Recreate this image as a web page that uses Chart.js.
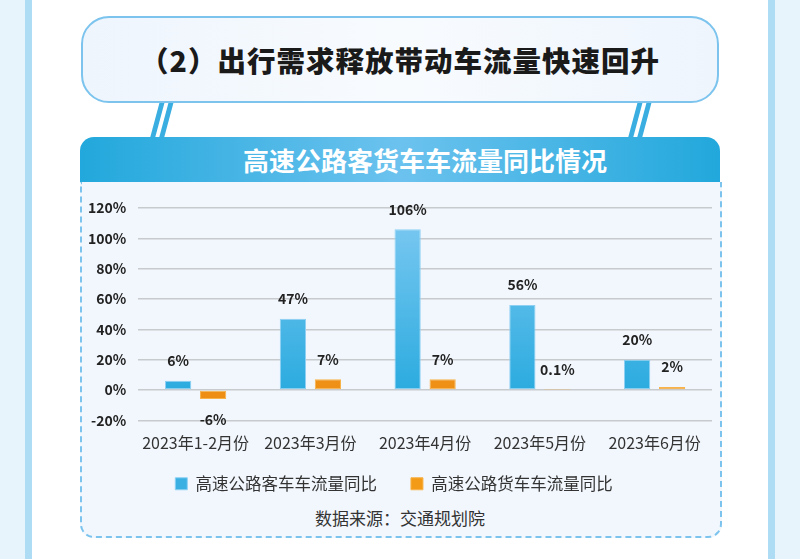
<!DOCTYPE html>
<html>
<head>
<meta charset="utf-8">
<script src="https://cdn.jsdelivr.net/npm/chart.js@4.4.0/dist/chart.umd.min.js"></script>
<style>
  html, body { margin: 0; padding: 0; }
  body { width: 800px; height: 559px; position: relative; overflow: hidden; background: #e8f4fc; font-family: "Noto Sans CJK SC", "Noto Sans", sans-serif; }
  .page { position: absolute; left: 25px; top: 0; width: 750px; height: 559px; background: #aedcf4; }
  .inner { position: absolute; left: 32px; top: 0; width: 736px; height: 559px; background: #fff; }
  .titlebox { position: absolute; left: 81px; top: 16px; width: 634px; height: 83px; border: 2px solid #7cc4ee; border-radius: 28px;
    background: linear-gradient(90deg, #eef5fd, #f8fbfe 50%, #eef5fd); text-align: center; line-height: 83px;
    font-size: 28.5px; font-weight: 900; color: #1a1a1a; letter-spacing: 1px; }
  .leg { position: absolute; top: 101px; width: 5px; height: 37px; background: #3aaee0; transform: skewX(-15deg); }
  .header { position: absolute; left: 80px; top: 137px; width: 640px; height: 45px; border-radius: 14px 14px 0 0;
    background: linear-gradient(90deg, #22a8dc, #6cc2ee 50%, #22a8dc); color: #fff; font-size: 26px; font-weight: bold;
    text-align: center; line-height: 45px; text-indent: 50px; }
  .panel { position: absolute; left: 80px; top: 182px; width: 638px; height: 354px; background: #f2f7fd;
    border: 2px dashed #7cc4ee; border-top: none; border-radius: 0 0 14px 14px; }
  .chartwrap { position: absolute; left: 72px; top: 182px; width: 648px; height: 320px; }
  .source { position: absolute; left: 80px; top: 505px; width: 640px; text-align: center; font-size: 17px; color: #333; }
</style>
</head>
<body>
<div class="page"></div>
<div class="inner"></div>
<div class="leg" style="left:155px"></div>
<div class="leg" style="left:164px"></div>
<div class="leg" style="left:633px"></div>
<div class="leg" style="left:642px"></div>
<div class="titlebox">（2）出行需求释放带动车流量快速回升</div>
<div class="header">高速公路客货车车流量同比情况</div>
<div class="panel"></div>
<div class="chartwrap"><canvas id="chart"></canvas></div>
<div class="source">数据来源：交通规划院</div>
<script>
const categories = ['2023年1-2月份', '2023年3月份', '2023年4月份', '2023年5月份', '2023年6月份'];
const passengerValues = [6, 47, 106, 56, 20];
const freightValues = [-6, 7, 7, 0.1, 2];
const passengerLabels = ['6%', '47%', '106%', '56%', '20%'];
const freightLabels = ['-6%', '7%', '7%', '0.1%', '2%'];
const seriesNames = ['高速公路客车车流量同比', '高速公路货车车流量同比'];

function gradient(ctx, chartArea, top, bottom) {
    const g = ctx.createLinearGradient(0, chartArea.top, 0, chartArea.bottom);
    g.addColorStop(0, top);
    g.addColorStop(1, bottom);
    return g;
}

// value labels above / below the bars
const barLabels = {
    id: 'barLabels',
    afterDatasetsDraw(chart) {
        const ctx = chart.ctx;
        ctx.save();
        ctx.font = 'bold 14px "Noto Sans CJK SC"';
        ctx.fillStyle = '#222';
        ctx.textAlign = 'center';
        ctx.textBaseline = 'middle';
        const texts = [passengerLabels, freightLabels];
        chart.data.datasets.forEach(function(ds, i) {
            chart.getDatasetMeta(i).data.forEach(function(bar, j) {
                const v = ds.data[j];
                const y = v < 0 ? bar.y + 21 : bar.y - 20;
                ctx.fillText(texts[i][j], bar.x, y);
            });
        });
        ctx.restore();
    }
};

const chart = document.getElementById('chart');
new Chart(chart, {
    type: 'bar',
    data: {
        labels: categories,
        datasets: [
            {
                label: seriesNames[0],
                data: passengerValues,
                backgroundColor: function(c) {
                    const a = c.chart.chartArea;
                    if (!a) return '#3ab0e2';
                    return gradient(c.chart.ctx, a, '#7fcaf2', '#1ea6dc');
                },
                borderColor: '#8ed0f4',
                borderWidth: 1,
                borderSkipped: false,
                barPercentage: 0.75,
                categoryPercentage: 0.61
            },
            {
                label: seriesNames[1],
                data: freightValues,
                backgroundColor: function(c) {
                    const a = c.chart.chartArea;
                    if (!a) return '#f39a16';
                    return gradient(c.chart.ctx, a, '#fbb030', '#ec8a10');
                },
                borderColor: '#f8b24a',
                borderWidth: 1,
                borderSkipped: false,
                barPercentage: 0.75,
                categoryPercentage: 0.61
            }
        ]
    },
    options: {
        responsive: true,
        maintainAspectRatio: false,
        animation: false,
        layout: { padding: { left: 4, right: 8, top: 26, bottom: 0 } },
        plugins: {
            tooltip: { enabled: false },
            legend: {
                position: 'bottom',
                labels: {
                    boxWidth: 12, boxHeight: 12, padding: 10,
                    color: '#333',
                    font: { size: 16.5, family: '"Noto Sans CJK SC"' },
                    generateLabels: function(c) {
                        const items = Chart.defaults.plugins.legend.labels.generateLabels(c);
                        items.forEach(function(it, i) {
                            it.fillStyle = i === 0 ? '#3ab0e2' : '#f39a16';
                            it.strokeStyle = i === 0 ? '#8ed0f4' : '#f8b24a';
                            if (i === 0) it.text = it.text + '\u3000  ';
                        });
                        return items;
                    }
                }
            }
        },
        scales: {
            x: {
                grid: { display: false, drawTicks: false },
                border: { display: false },
                ticks: { color: '#333', padding: 13, font: { size: 16, family: '"Noto Sans CJK SC"' } }
            },
            y: {
                min: -20, max: 120,
                ticks: {
                    stepSize: 20, color: '#222', padding: 12,
                    font: { size: 14, weight: 'bold', family: '"Noto Sans CJK SC"' },
                    callback: function(v) { return v + '%'; }
                },
                grid: { color: '#c8cbce', lineWidth: 1.5, drawTicks: false },
                border: { display: false }
            }
        }
    },
    plugins: [barLabels]
});
</script>
</body>
</html>
